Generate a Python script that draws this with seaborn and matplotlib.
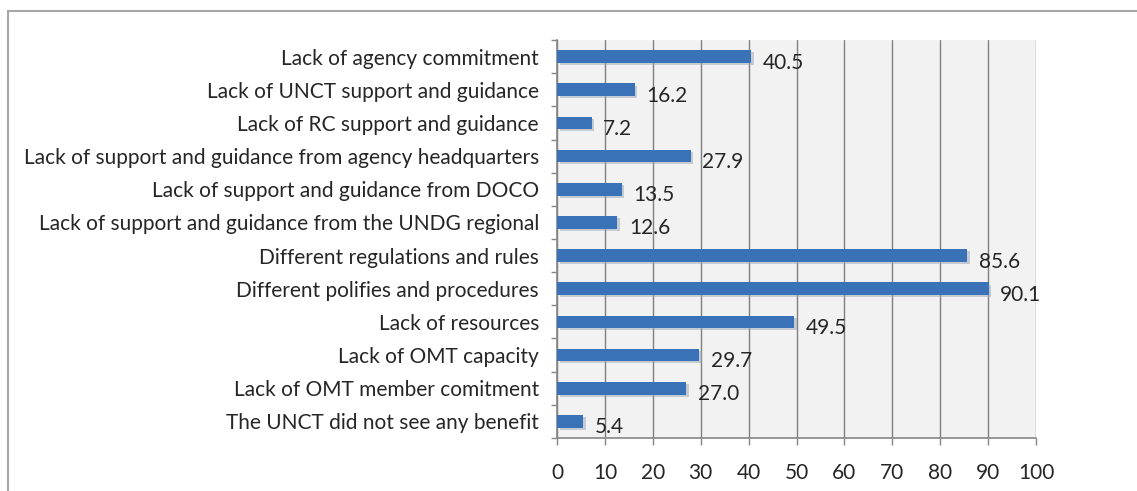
import matplotlib
matplotlib.use("Agg")
import matplotlib.pyplot as plt
import matplotlib.patches as mpatches
import matplotlib.patheffects as pe
import numpy as np
import pandas as pd
import seaborn as sns

categories = [
    "Lack of agency commitment",
    "Lack of UNCT support and guidance",
    "Lack of RC support and guidance",
    "Lack of support and guidance from agency headquarters",
    "Lack of support and guidance from DOCO",
    "Lack of support and guidance from the UNDG regional",
    "Different regulations and rules",
    "Different polifies and procedures",
    "Lack of resources",
    "Lack of OMT capacity",
    "Lack of OMT member comitment",
    "The UNCT did not see any benefit",
]
values = [40.5, 16.2, 7.2, 27.9, 13.5, 12.6, 85.6, 90.1, 49.5, 29.7, 27.0, 5.4]
value_labels = ["40.5", "16.2", "7.2", "27.9", "13.5", "12.6",
                "85.6", "90.1", "49.5", "29.7", "27.0", "5.4"]
x_ticks = [0, 10, 20, 30, 40, 50, 60, 70, 80, 90, 100]

sns.set_theme(style="white")
plt.rcParams["font.family"] = ["Lato", "DejaVu Sans"]

df = pd.DataFrame({"category": categories, "value": values})

fig = plt.figure(figsize=(11.37, 4.91), dpi=100)
ax = fig.add_axes([0.4899, 0.108, 0.4213, 0.8105])

# outer chart frame
frame = mpatches.Rectangle((8 / 1137, -0.1), 1.2, 1 - 11 / 491 + 0.1,
                           transform=fig.transFigure, fill=False,
                           edgecolor="#a6a6a6", linewidth=1.5, zorder=0)
fig.patches.append(frame)

ax.set_facecolor("#f2f2f2")
sns.barplot(data=df, x="value", y="category", orient="h", color="#3a72b8",
            width=0.38, ax=ax, zorder=3, saturation=1, linewidth=0)
for bar in ax.patches:
    bar.set_linewidth(0)
    bar.set_path_effects([pe.SimplePatchShadow(offset=(2, -1.5), shadow_rgbFace="#9aa5b5", alpha=0.5),
                          pe.Normal()])

FS = 15
for i, (v, lab) in enumerate(zip(values, value_labels)):
    ax.text(v + 2.4, i + 0.18, lab, va="center", ha="left", fontsize=FS,
            color="#262626", zorder=4)

ax.set_xlim(0, 100)
ax.set_ylim(len(categories) - 0.5, -0.5)
ax.set_xticks(x_ticks)
ax.set_xticklabels([str(t) for t in x_ticks], fontsize=FS, color="#262626")
ax.set_yticks(range(len(categories)))
ax.set_yticklabels(categories, fontsize=FS, color="#262626")
ax.set_yticks(np.arange(-0.5, len(categories), 1.0), minor=True)
ax.tick_params(axis="y", which="major", length=0, pad=13)
ax.tick_params(axis="y", which="minor", length=4, color="#868686", width=1)
ax.tick_params(axis="x", which="major", length=5, color="#868686", width=1,
               direction="out", pad=13)
ax.xaxis.set_ticks_position("bottom")
ax.yaxis.set_ticks_position("left")
ax.set_xlabel("")
ax.set_ylabel("")

ax.grid(axis="x", color="#808080", linewidth=1.0, zorder=1)
ax.set_axisbelow(True)
ax.spines["top"].set_visible(False)
ax.spines["right"].set_visible(False)
ax.spines["left"].set_color("#868686")
ax.spines["bottom"].set_color("#868686")
ax.spines["left"].set_linewidth(1.2)
ax.spines["bottom"].set_linewidth(1.2)

fig.savefig("out.png", dpi=100)
